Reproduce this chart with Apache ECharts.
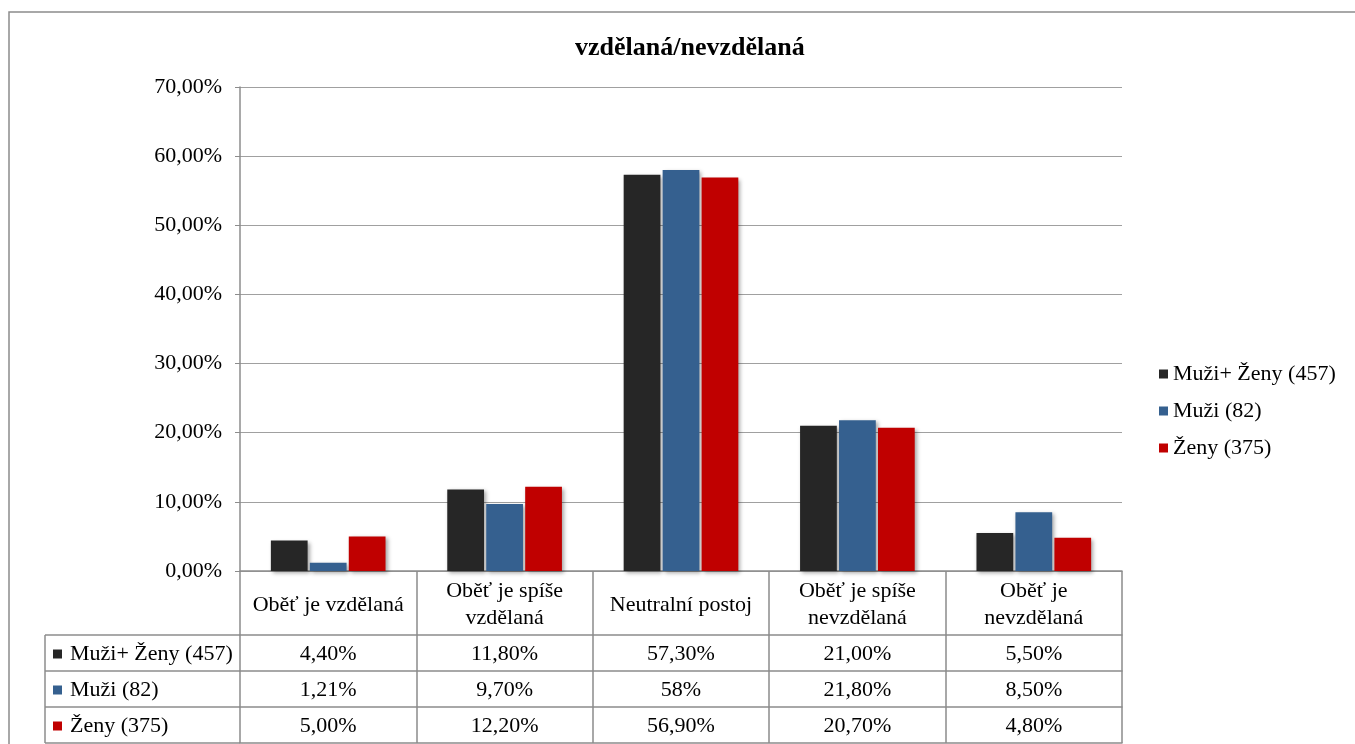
<!DOCTYPE html>
<html>
<head>
<meta charset="utf-8">
<script src="https://cdn.jsdelivr.net/npm/echarts@6/dist/echarts.min.js"></script>
<style>
  html, body { margin: 0; padding: 0; background: #fff; }
  #main { width: 1355px; height: 744px; }
</style>
</head>
<body>
<div id="main"></div>
<script>
// data
const categories = ['Oběť je vzdělaná', 'Oběť je spíše\nvzdělaná', 'Neutralní postoj', 'Oběť je spíše\nnevzdělaná', 'Oběť je\nnevzdělaná'];
const seriesNames = ['Muži+ Ženy (457)', 'Muži (82)', 'Ženy (375)'];
const allValues = [4.4, 11.8, 57.3, 21.0, 5.5];
const menValues = [1.21, 9.7, 58, 21.8, 8.5];
const womenValues = [5.0, 12.2, 56.9, 20.7, 4.8];
// texts of the data table under the axis
const allLabels = ['4,40%', '11,80%', '57,30%', '21,00%', '5,50%'];
const menLabels = ['1,21%', '9,70%', '58%', '21,80%', '8,50%'];
const womenLabels = ['5,00%', '12,20%', '56,90%', '20,70%', '4,80%'];
const yTicks = [0, 10, 20, 30, 40, 50, 60, 70];

const colors = ['#262626', '#35608f', '#c00000'];
const font = 'Liberation Serif';
const fontSize = 22;
const lineColor = '#8c8c8c';

// layout
const gridLeft = 240, gridRight = 1122, gridTop = 87, axisY = 571;
const headerH = 64, rowH = 36, tableLeft = 45;

const chart = echarts.init(document.getElementById('main'));

const rowLabels = [allLabels, menLabels, womenLabels];

// extra x axes = rows of the data table
const tableAxes = [0, 1, 2, 3].map(function (i) {
  return {
    type: 'category',
    position: 'bottom',
    offset: headerH + i * rowH,
    data: categories,
    axisLine: { show: true, lineStyle: { color: lineColor, width: 1.5 } },
    axisTick: { show: false },
    axisLabel: {
      show: i < 3,
      interval: 0,
      margin: rowH / 2 + 1,
      verticalAlign: 'middle',
      fontFamily: font,
      fontSize: fontSize,
      color: '#000',
      formatter: function (v, idx) { return i < 3 ? rowLabels[i][idx] : ''; }
    },
    splitLine: { show: false }
  };
});

const tableBottom = axisY + headerH + rowH * 3;
const graphic = [
  {
    type: 'rect', silent: true,
    shape: { x: 9, y: 12, width: 1400, height: 800 },
    style: { fill: 'none', stroke: '#8c8c8c', lineWidth: 1.5 }
  },
  {
    type: 'line', silent: true,
    shape: { x1: tableLeft, y1: axisY + headerH, x2: tableLeft, y2: tableBottom },
    style: { stroke: lineColor, lineWidth: 1.5 }
  }
];
[0, 1, 2, 3].forEach(function (i) {
  const y = axisY + headerH + i * rowH;
  graphic.push({
    type: 'line', silent: true,
    shape: { x1: tableLeft, y1: y, x2: gridLeft, y2: y },
    style: { stroke: lineColor, lineWidth: 1.5 }
  });
});
seriesNames.forEach(function (name, i) {
  const cy = axisY + headerH + i * rowH + rowH / 2 + 1;
  graphic.push({
    type: 'rect', silent: true,
    shape: { x: 53, y: cy - 4.5, width: 9, height: 9 },
    style: { fill: colors[i] }
  });
  graphic.push({
    type: 'text', silent: true,
    x: 70, y: cy,
    style: { text: name, fontFamily: font, fontSize: fontSize, fill: '#000', verticalAlign: 'middle', align: 'left' }
  });
});

function barSeries(name, data, color) {
  return {
    name: name,
    type: 'bar',
    data: data,
    barGap: '6%',
    barCategoryGap: '35%',
    itemStyle: {
      color: color,
      shadowColor: 'rgba(0,0,0,0.35)',
      shadowBlur: 4,
      shadowOffsetX: 2,
      shadowOffsetY: 2
    }
  };
}

const option = {
  animation: false,
  textStyle: { fontFamily: font },
  title: {
    text: 'vzdělaná/nevzdělaná',
    left: 570,
    top: 30,
    textStyle: { fontFamily: font, fontSize: 26, fontWeight: 'bold', color: '#000' }
  },
  legend: {
    orient: 'vertical',
    left: 1154,
    top: 358,
    itemWidth: 9,
    itemHeight: 9,
    itemGap: 15,
    icon: 'rect',
    data: seriesNames,
    textStyle: { fontFamily: font, fontSize: fontSize, color: '#000', lineHeight: 22 }
  },
  grid: {
    left: gridLeft,
    right: 1355 - gridRight,
    top: gridTop,
    bottom: 744 - axisY,
    containLabel: false,
    outerBoundsMode: 'none'
  },
  xAxis: [
    {
      type: 'category',
      position: 'bottom',
      data: categories,
      axisLine: { show: true, lineStyle: { color: lineColor, width: 1.5 } },
      axisTick: { show: true, alignWithLabel: false, length: headerH + rowH * 3, lineStyle: { color: lineColor, width: 1.5 } },
      axisLabel: {
        interval: 0,
        margin: headerH / 2 + 2,
        verticalAlign: 'middle',
        align: 'center',
        fontFamily: font,
        fontSize: fontSize,
        lineHeight: 27,
        color: '#000'
      }
    }
  ].concat(tableAxes),
  yAxis: {
    type: 'value',
    min: yTicks[0],
    max: yTicks[yTicks.length - 1],
    interval: 10,
    axisLine: { show: true, lineStyle: { color: lineColor, width: 1.5 } },
    axisTick: { show: true, length: 5, lineStyle: { color: lineColor } },
    splitLine: { show: true, lineStyle: { color: '#a0a0a0', width: 1.2 } },
    axisLabel: {
      margin: 18,
      fontFamily: font,
      fontSize: fontSize,
      color: '#000',
      formatter: function (v) { return v.toFixed(2).replace('.', ',') + '%'; }
    }
  },
  series: [
    barSeries(seriesNames[0], allValues, colors[0]),
    barSeries(seriesNames[1], menValues, colors[1]),
    barSeries(seriesNames[2], womenValues, colors[2])
  ],
  graphic: graphic
};

chart.setOption(option);
</script>
</body>
</html>
